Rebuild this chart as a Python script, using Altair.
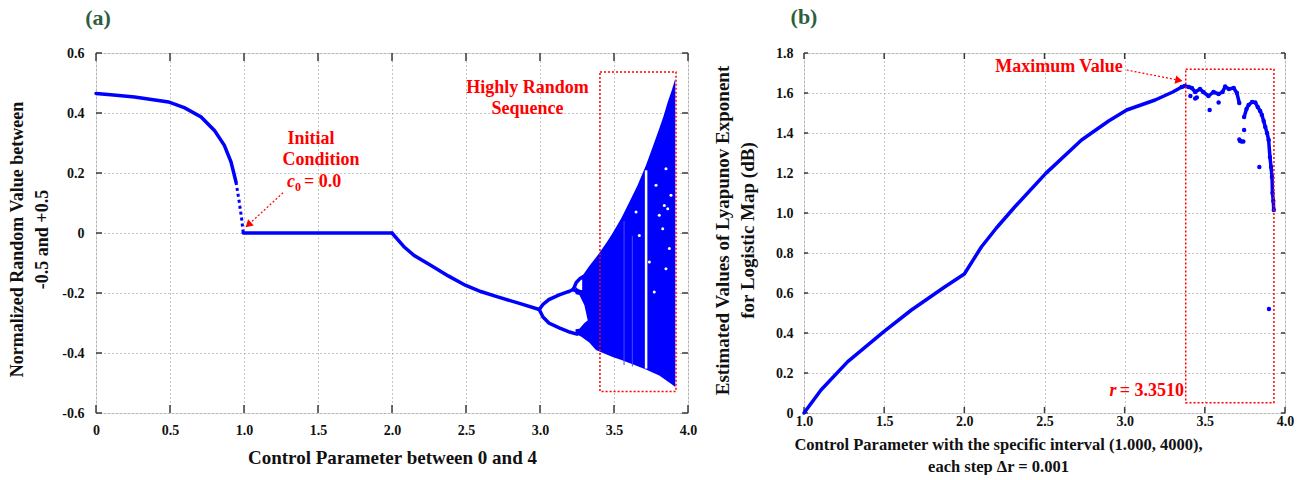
import altair as alt
import pandas as pd

FONT = "Liberation Serif"
BLUE = "#0000FF"
RED = "#FF0000"
GREEN = "#2D5E3E"
INK = "#111111"
FRAME = "#3a3a3a"
GRID = "#8f8f8f"

# ======================= Panel (a) data =======================
a_x_ticks = [0, 0.5, 1.0, 1.5, 2.0, 2.5, 3.0, 3.5, 4.0]
a_y_ticks = [-0.6, -0.4, -0.2, 0, 0.2, 0.4, 0.6]

# stable branch, r in [0, 1]
a_lead_r = [0, 0.1, 0.26, 0.49, 0.6, 0.71, 0.8, 0.867, 0.912, 0.946]
a_lead_v = [0.465, 0.461, 0.453, 0.437, 0.417, 0.387, 0.342, 0.292, 0.237, 0.17]
a_steep_r = [0.946, 0.968, 0.984, 0.995]
a_steep_v = [0.17, 0.103, 0.048, 0.0]
a_flat_r = [0.995, 2.0]
a_flat_v = [0.0, 0.0]
a_fall_r = [2.0, 2.083, 2.15, 2.264, 2.38, 2.495, 2.6, 2.714, 2.85, 2.995]
a_fall_v = [0.0, -0.047, -0.075, -0.108, -0.143, -0.174, -0.195, -0.213, -0.233, -0.255]

# period-2 / period-4 branches
a_up_r = [2.995, 3.02, 3.06, 3.13, 3.2, 3.225]
a_up_v = [-0.255, -0.238, -0.222, -0.206, -0.194, -0.188]
a_lo_r = [2.995, 3.02, 3.06, 3.13, 3.2, 3.25]
a_lo_v = [-0.255, -0.28, -0.3, -0.316, -0.33, -0.337]
a_loop_top_r = [3.225, 3.245, 3.27, 3.29]
a_loop_top_v = [-0.188, -0.165, -0.152, -0.146]
a_loop_bot_r = [3.225, 3.26, 3.29]
a_loop_bot_v = [-0.188, -0.198, -0.2]

# chaotic band envelope
a_band_r = [3.24, 3.277, 3.3, 3.333, 3.378, 3.41, 3.45, 3.491, 3.55, 3.604, 3.66,
            3.716, 3.76, 3.806, 3.835, 3.863, 3.89, 3.914]
a_band_hi = [-0.165, -0.148, -0.133, -0.11, -0.082, -0.06, -0.032, 0.0, 0.05, 0.103, 0.16,
             0.226, 0.285, 0.348, 0.39, 0.437, 0.475, 0.514]
a_band_lo = [-0.337, -0.345, -0.353, -0.365, -0.39, -0.397, -0.405, -0.413, -0.423, -0.433, -0.444,
             -0.455, -0.465, -0.475, -0.485, -0.495, -0.504, -0.513]

# white interior of the period-2 loop and of the small period-4 loop
a_hole_r = [3.01, 3.04, 3.13, 3.22, 3.266, 3.30, 3.322]
a_hole_hi = [-0.262, -0.236, -0.214, -0.202, -0.207, -0.241, -0.29]
a_hole_lo = [-0.266, -0.292, -0.308, -0.322, -0.319, -0.30, -0.292]
a_small_r = [3.235, 3.255, 3.275, 3.285]
a_small_hi = [-0.17, -0.16, -0.155, -0.155]
a_small_lo = [-0.176, -0.186, -0.19, -0.19]

# periodic window (white) and faint windows
a_win_r = [3.717]
a_win_hi = [0.209]
a_win_lo = [-0.452]
a_faint_r = [3.568, 3.624]
a_faint_hi = [0.04, -0.01]
a_faint_lo = [-0.44, -0.445]

# white specks inside the chaotic band
a_speck_r = [3.784, 3.851, 3.840, 3.863, 3.806, 3.649, 3.671, 3.829, 3.874, 3.772, 3.851, 3.885, 3.739]
a_speck_v = [0.159, 0.214, 0.092, 0.081, 0.059, 0.07, -0.008, 0.014, -0.052, -0.197, -0.119, 0.126, -0.097]

# annotation box and arrow
a_box = dict(x1=3.405, x2=3.919, y1=0.537, y2=-0.528)
a_arrow_r = [1.27, 1.035]
a_arrow_v = [0.137, 0.03]

# ======================= Panel (b) data =======================
b_x_ticks = [1.0, 1.5, 2.0, 2.5, 3.0, 3.5, 4.0]
b_y_ticks = [0, 0.2, 0.4, 0.6, 0.8, 1.0, 1.2, 1.4, 1.6, 1.8]

b_trunk_r = [1.0, 1.106, 1.273, 1.498, 1.67, 1.877, 2.0, 2.106, 2.2, 2.314, 2.508, 2.731, 2.9,
             3.0125, 3.19, 3.3, 3.356]
b_trunk_v = [0.0, 0.115, 0.257, 0.407, 0.515, 0.63, 0.695, 0.83, 0.925, 1.03, 1.198, 1.365, 1.46,
             1.515, 1.565, 1.605, 1.63]
b_wave_r = [3.356, 3.375, 3.40, 3.419, 3.44, 3.47, 3.49, 3.523, 3.554, 3.586, 3.61, 3.627, 3.65,
            3.68, 3.70, 3.715]
b_wave_v = [1.63, 1.635, 1.63, 1.625, 1.605, 1.62, 1.605, 1.585, 1.605, 1.595, 1.605, 1.632, 1.62,
            1.625, 1.60, 1.55]
b_tail_r = [3.745, 3.76, 3.773, 3.795, 3.815, 3.83, 3.845, 3.856, 3.867, 3.877, 3.888, 3.898,
            3.906, 3.913, 3.919, 3.922, 3.927, 3.93]
b_tail_v = [1.48, 1.52, 1.54, 1.555, 1.552, 1.53, 1.51, 1.49, 1.46, 1.43, 1.40, 1.365,
            1.28, 1.23, 1.18, 1.10, 1.06, 1.015]
b_out_r = [3.41, 3.44, 3.45, 3.53, 3.586, 3.715, 3.72, 3.73, 3.74, 3.745, 3.84, 3.90]
b_out_v = [1.585, 1.573, 1.578, 1.515, 1.552, 1.368, 1.36, 1.358, 1.357, 1.415, 1.23, 0.52]

b_box = dict(x1=3.381, x2=3.931, y1=1.7185, y2=0.0515)
b_arrow_r = [3.0125, 3.331]
b_arrow_v = [1.715, 1.665]


# ======================= helpers =======================
def seg_df(pairs):
    rows = []
    for name, rs, vs in pairs:
        for i, (r, v) in enumerate(zip(rs, vs)):
            rows.append({"seg": name, "i": i, "r": r, "v": v})
    return pd.DataFrame(rows)


def band_df(rs, hi, lo, name="b"):
    return pd.DataFrame({"seg": [name] * len(rs), "r": rs, "hi": hi, "lo": lo})


lab0 = "datum.value == 0 ? '0' : replace(format(datum.value, '.1f'), '\u2212', '-')"
lab1 = "format(datum.value, '.1f')"


def axis(values, expr, title, pad, tsize, **kw):
    return alt.Axis(values=values, labelExpr=expr, grid=True, gridDash=[1, 3], gridColor=GRID,
                    gridWidth=1, ticks=False, domain=False, labelFont=FONT, labelFontWeight="bold",
                    labelFontSize=14, labelColor=INK, labelPadding=pad, labelFlush=False,
                    labelOverlap=False, title=title, titleFont=FONT, titleFontSize=tsize,
                    titleFontWeight="bold", titleColor=INK, **kw)


def panel(xs, ys, x_axis, y_axis, W, H, x_ticks, y_ticks, tick_len):
    X = lambda f: alt.X(f, scale=xs, axis=x_axis)
    Y = lambda f: alt.Y(f, scale=ys, axis=y_axis)
    tx = pd.DataFrame({"r": x_ticks})
    ty = pd.DataFrame({"v": y_ticks})
    bottom = alt.Chart(tx).mark_rule(color=FRAME, strokeWidth=1.5).encode(
        x=X("r:Q"), y=alt.value(H), y2=alt.value(H - tick_len))
    top = alt.Chart(tx).mark_rule(color=FRAME, strokeWidth=1.5).encode(
        x=X("r:Q"), y=alt.value(0), y2=alt.value(tick_len))
    left = alt.Chart(ty).mark_rule(color=FRAME, strokeWidth=1.5).encode(
        y=Y("v:Q"), x=alt.value(0), x2=alt.value(tick_len - 2))
    right = alt.Chart(ty).mark_rule(color=FRAME, strokeWidth=1.5).encode(
        y=Y("v:Q"), x=alt.value(W), x2=alt.value(W - tick_len + 2))
    return X, Y, [bottom, left, top, right]


def red_text(df, X, Y, size=18, align="center", baseline="middle", style="normal"):
    return alt.Chart(df).mark_text(font=FONT, fontWeight="bold", fontSize=size, color=RED,
                                   align=align, baseline=baseline, fontStyle=style).encode(
        x=X("r:Q"), y=Y("v:Q"), text="t:N")


# ======================= Panel (a) =======================
WA, HA = 592, 360
AX = alt.Scale(domain=[0, 4], nice=False, zero=False)
AY = alt.Scale(domain=[-0.6, 0.6], nice=False, zero=False)
ax_a = axis(a_x_ticks, lab0, "Control Parameter between 0 and 4", 10, 19,
            titleX=296, titleY=50, titleBaseline="alphabetic", titleAlign="center")
ay_a = axis(a_y_ticks, lab0, ["Normalized Random Value between", "-0.5 and +0.5"], 12, 18,
            titleX=-79, titleY=186, titleAngle=270, titleBaseline="middle", titleAlign="center",
            titleLineHeight=25)
XA, YA, ticks_a = panel(AX, AY, ax_a, ay_a, WA, HA, a_x_ticks, a_y_ticks, 8)

lines_a = alt.Chart(seg_df([
    ("lead", a_lead_r, a_lead_v), ("flat", a_flat_r, a_flat_v), ("fall", a_fall_r, a_fall_v),
])).mark_line(color=BLUE, strokeWidth=3.5, strokeCap="round").encode(
    x=XA("r:Q"), y=YA("v:Q"), detail="seg:N", order="i:Q")
steep_a = alt.Chart(seg_df([("steep", a_steep_r, a_steep_v)])).mark_line(
    color=BLUE, strokeWidth=3, strokeDash=[3, 3]).encode(
    x=XA("r:Q"), y=YA("v:Q"), detail="seg:N", order="i:Q")
band_a = alt.Chart(band_df(a_band_r, a_band_hi, a_band_lo)).mark_area(color=BLUE, opacity=1).encode(
    x=XA("r:Q"), y=YA("hi:Q"), y2="lo:Q")
hole_a = alt.Chart(band_df(a_hole_r, a_hole_hi, a_hole_lo)).mark_area(color="white", opacity=1).encode(
    x=XA("r:Q"), y=YA("hi:Q"), y2="lo:Q")
small_a = alt.Chart(band_df(a_small_r, a_small_hi, a_small_lo)).mark_area(color="white", opacity=1).encode(
    x=XA("r:Q"), y=YA("hi:Q"), y2="lo:Q")
faint_a = alt.Chart(band_df(a_faint_r, a_faint_hi, a_faint_lo)).mark_rule(
    color="#4a4aff", strokeWidth=1).encode(x=XA("r:Q"), y=YA("hi:Q"), y2="lo:Q")
win_a = alt.Chart(band_df(a_win_r, a_win_hi, a_win_lo)).mark_rule(
    color="white", strokeWidth=2.5).encode(x=XA("r:Q"), y=YA("hi:Q"), y2="lo:Q")
speck_a = alt.Chart(pd.DataFrame({"r": a_speck_r, "v": a_speck_v})).mark_circle(
    color="white", opacity=1, size=9).encode(x=XA("r:Q"), y=YA("v:Q"))
branch_a = alt.Chart(seg_df([
    ("up", a_up_r, a_up_v), ("lo", a_lo_r, a_lo_v),
    ("lt", a_loop_top_r, a_loop_top_v), ("lb", a_loop_bot_r, a_loop_bot_v),
])).mark_line(color=BLUE, strokeWidth=3.5, strokeCap="round").encode(
    x=XA("r:Q"), y=YA("v:Q"), detail="seg:N", order="i:Q")
box_a = alt.Chart(pd.DataFrame([a_box]).rename(columns={"x1": "r"})).mark_rect(
    fillOpacity=0, stroke=RED, strokeWidth=1.5, strokeDash=[2, 2]).encode(
    x=XA("r:Q"), x2="x2:Q", y=YA("y1:Q"), y2="y2:Q")
arrow_a = alt.Chart(pd.DataFrame({"r": a_arrow_r, "v": a_arrow_v})).mark_line(
    color=RED, strokeWidth=1.2, strokeDash=[2, 2]).encode(x=XA("r:Q"), y=YA("v:Q"))
head_a = alt.Chart(pd.DataFrame({"r": [a_arrow_r[1]], "v": [a_arrow_v[1]]})).mark_point(
    shape="triangle", filled=True, color=RED, opacity=1, size=70, angle=227).encode(
    x=XA("r:Q"), y=YA("v:Q"))
txt_a = red_text(pd.DataFrame({"r": [2.916, 2.916, 1.453, 1.52],
                               "v": [0.483, 0.414, 0.313, 0.243],
                               "t": ["Highly Random", "Sequence", "Initial", "Condition"]}), XA, YA)
c_a = red_text(pd.DataFrame({"r": [1.291], "v": [0.153], "t": ["c"]}), XA, YA,
               align="left", baseline="alphabetic", style="italic")
sub_a = red_text(pd.DataFrame({"r": [1.345], "v": [0.14], "t": ["0"]}), XA, YA, size=12,
                 align="left", baseline="alphabetic")
eq_a = red_text(pd.DataFrame({"r": [1.405], "v": [0.153], "t": ["= 0.0"]}), XA, YA,
                align="left", baseline="alphabetic")
label_a = alt.Chart(pd.DataFrame({"t": ["(a)"]})).mark_text(
    font=FONT, fontWeight="bold", fontSize=22, color=GREEN, align="center", baseline="middle").encode(
    x=alt.value(2), y=alt.value(-35), text="t:N")
anchor = alt.Chart(pd.DataFrame({"t": [0]})).mark_rule(color="white", strokeWidth=1).encode(
    x=alt.value(-94.5), x2=alt.value(-94.5), y=alt.value(-51.5), y2=alt.value(-51.5))

chart_a = alt.layer(
    ticks_a[0], ticks_a[1], lines_a, steep_a, band_a, hole_a, small_a, faint_a, win_a, speck_a,
    branch_a, box_a, arrow_a, head_a, txt_a, c_a, sub_a, eq_a, label_a, anchor,
    ticks_a[2], ticks_a[3],
).properties(width=WA, height=HA)

# ======================= Panel (b) =======================
WB, HB = 481, 360
BX = alt.Scale(domain=[1, 4], nice=False, zero=False)
BY = alt.Scale(domain=[0, 1.8], nice=False, zero=False)
ax_b = axis(b_x_ticks, lab1, ["Control Parameter with the specific interval (1.000, 4000),",
                               "each step  \u0394r = 0.001"], 1, 16.5,
            titleX=194, titleY=36, titleBaseline="alphabetic", titleAlign="center",
            titleLineHeight=22)
ay_b = axis(b_y_ticks, lab0, ["Estimated Values of Lyapunov Exponent", "for Logistic Map (dB)"], 11, 19,
            titleX=-82, titleY=177, titleAngle=270, titleBaseline="middle", titleAlign="center",
            titleLineHeight=25)
XB, YB, ticks_b = panel(BX, BY, ax_b, ay_b, WB, HB, b_x_ticks, b_y_ticks, 6)

lines_b = alt.Chart(seg_df([
    ("trunk", b_trunk_r, b_trunk_v), ("wave", b_wave_r, b_wave_v), ("tail", b_tail_r, b_tail_v),
])).mark_line(color=BLUE, strokeWidth=3.5, strokeCap="round", strokeJoin="round").encode(
    x=XB("r:Q"), y=YB("v:Q"), detail="seg:N", order="i:Q")
dots_b = alt.Chart(pd.DataFrame({"r": b_wave_r + b_tail_r + b_out_r,
                                 "v": b_wave_v + b_tail_v + b_out_v})).mark_circle(
    color=BLUE, opacity=1, size=20).encode(x=XB("r:Q"), y=YB("v:Q"))
box_b = alt.Chart(pd.DataFrame([b_box]).rename(columns={"x1": "r"})).mark_rect(
    fillOpacity=0, stroke=RED, strokeWidth=1.5, strokeDash=[2, 2]).encode(
    x=XB("r:Q"), x2="x2:Q", y=YB("y1:Q"), y2="y2:Q")
arrow_b = alt.Chart(pd.DataFrame({"r": b_arrow_r, "v": b_arrow_v})).mark_line(
    color=RED, strokeWidth=1.2, strokeDash=[2, 2]).encode(x=XB("r:Q"), y=YB("v:Q"))
head_b = alt.Chart(pd.DataFrame({"r": [b_arrow_r[1]], "v": [b_arrow_v[1]]})).mark_point(
    shape="triangle", filled=True, color=RED, opacity=1, size=70, angle=101).encode(
    x=XB("r:Q"), y=YB("v:Q"))
txt_b = red_text(pd.DataFrame({"r": [2.59], "v": [1.73], "t": ["Maximum Value"]}), XB, YB)
rr_b = red_text(pd.DataFrame({"r": [2.906], "v": [0.085], "t": ["r"]}), XB, YB,
                align="left", baseline="alphabetic", style="italic")
val_b = red_text(pd.DataFrame({"r": [2.969], "v": [0.085], "t": ["= 3.3510"]}), XB, YB,
                 align="left", baseline="alphabetic")
label_b = alt.Chart(pd.DataFrame({"t": ["(b)"]})).mark_text(
    font=FONT, fontWeight="bold", fontSize=22, color=GREEN, align="center", baseline="middle").encode(
    x=alt.value(0), y=alt.value(-36), text="t:N")

chart_b = alt.layer(
    ticks_b[0], ticks_b[1], lines_b, dots_b, box_b, arrow_b, head_b, txt_b, rr_b, val_b, label_b,
    ticks_b[2], ticks_b[3],
).properties(width=WB, height=HB)

chart = alt.HConcatChart(hconcat=[chart_a, chart_b], spacing=116, bounds="flush", padding=0) \
    .configure_view(stroke=FRAME, strokeWidth=1.5) \
    .configure(background="white")

chart.save("out.html", embed_options={"renderer": "svg", "actions": False})
